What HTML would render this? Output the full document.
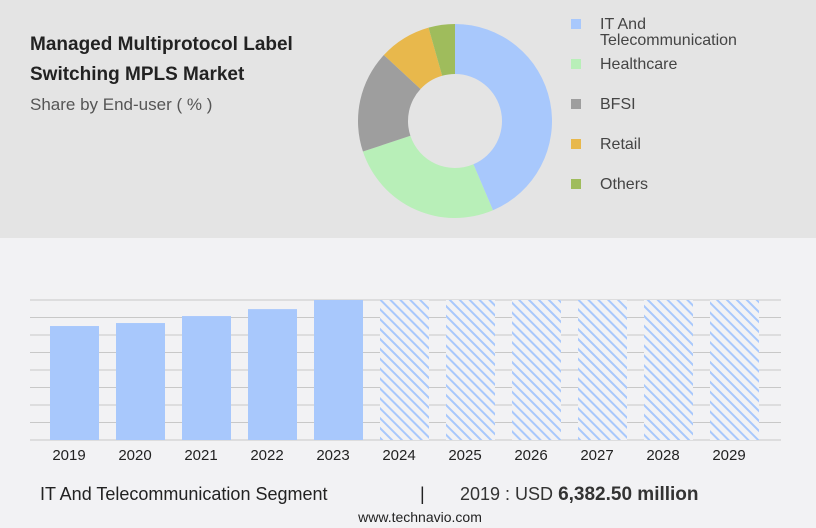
<!DOCTYPE html>
<html><head><meta charset="utf-8"><style>
body{margin:0;width:816px;height:528px;overflow:hidden;background:#f2f2f4;font-family:"Liberation Sans",sans-serif;}
svg{display:block}
</style></head><body>
<svg id="chart" width="816" height="528" xmlns="http://www.w3.org/2000/svg">
<defs>
<pattern id="hatch" patternUnits="userSpaceOnUse" width="7" height="7" patternTransform="rotate(-45)">
<rect width="7" height="7" fill="#f2f2f4"/><rect x="0" y="0" width="2" height="7" fill="#a8c8fc"/>
</pattern>
</defs>
<rect x="0" y="0" width="816" height="238" fill="#e4e4e4"/>
<text x="30" y="50" font-size="19" font-weight="bold" fill="#222">Managed Multiprotocol Label</text>
<text x="30" y="80" font-size="19" font-weight="bold" fill="#222">Switching MPLS Market</text>
<text x="30" y="110" font-size="17" fill="#555">Share by End-user ( % )</text>
<g id="donut"></g>
<g id="legend"></g>
<g id="grid"></g>
<g id="bars"></g>
<g id="xlabels"></g>
<text x="40" y="500" font-size="18" fill="#222">IT And Telecommunication Segment</text>
<text x="420" y="500" font-size="18" fill="#222">|</text>
<text x="460" y="500" font-size="18" fill="#333">2019 : USD <tspan font-weight="bold" font-size="19">6,382.50 million</tspan></text>
<text x="420" y="522" font-size="14" fill="#222" text-anchor="middle">www.technavio.com</text>
</svg>
<script>
const segNames=["IT And Telecommunication","Healthcare","BFSI","Retail","Others"];
const segShares=[43.6,26.3,17.0,8.7,4.4];
const segColors=["#a8c8fc","#b8efb8","#9e9e9e","#e8b84c","#9fbc5c"];
const years=["2019","2020","2021","2022","2023","2024","2025","2026","2027","2028","2029"];
const values=[6382.5,6550,6940,7330,7840,7840,7840,7840,7840,7840,7840];
const forecast=[false,false,false,false,false,true,true,true,true,true,true];
const NS="http://www.w3.org/2000/svg";
function mk(t,a,p){const e=document.createElementNS(NS,t);for(const k in a)e.setAttribute(k,a[k]);p.appendChild(e);return e;}
const cx=455,cy=121,R=97,r=47;const dg=document.getElementById('donut');
let tot=segShares.reduce((a,b)=>a+b,0),acc=0;
function pt(a,rad){return [cx+rad*Math.sin(a),cy-rad*Math.cos(a)];}
segShares.forEach((v,i)=>{const a0=acc/tot*2*Math.PI;acc+=v;const a1=acc/tot*2*Math.PI;const lg=(a1-a0)>Math.PI?1:0;
const p0=pt(a0,R),p1=pt(a1,R),q1=pt(a1,r),q0=pt(a0,r);
const p=mk('path',{d:`M${p0}A${R},${R} 0 ${lg} 1 ${p1}L${q1}A${r},${r} 0 ${lg} 0 ${q0}Z`,fill:segColors[i]},dg);

});
const lg=document.getElementById('legend');const ly=[24,64,104,144,184];
segNames.forEach((n,i)=>{const s=mk('rect',{x:571,y:ly[i]-5,width:10,height:10,fill:segColors[i]},lg);


const t=mk('text',{x:600,y:ly[i]+5,'font-size':16,fill:'#444'},lg);


if(i===0){t.textContent='IT And';const t2=mk('text',{x:600,y:ly[i]+21,'font-size':16,fill:'#444'},lg);t2.textContent='Telecommunication';

}else t.textContent=n;});
const base=440,top0=300,vmax=7840;function y(v){return base-(v/vmax)*(base-top0);}
const gg=document.getElementById('grid');
for(let i=0;i<=8;i++){const yy=top0+i*(base-top0)/8;const l=mk('line',{x1:30,x2:781,y1:yy,y2:yy,stroke:'#c8c8c8','stroke-width':1},gg);

}
const bg=document.getElementById('bars'),xg=document.getElementById('xlabels');
years.forEach((yr,i)=>{const x=50+i*66;const b=mk('rect',{x:x,y:y(values[i]),width:49,height:base-y(values[i]),fill:forecast[i]?'url(#hatch)':'#a8c8fc'},bg);


const t=mk('text',{x:x+19,y:460,'font-size':15,'text-anchor':'middle',fill:'#222'},xg);t.textContent=yr;

});
</script>
</body></html>
